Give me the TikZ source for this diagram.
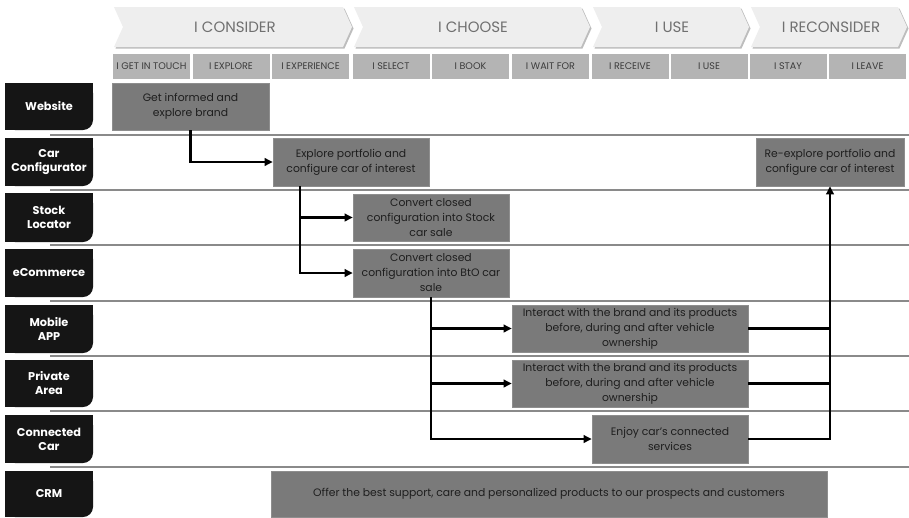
\documentclass[tikz,border=0pt]{standalone}
\usepackage{fontspec}
\setmainfont{Poppins}
\usetikzlibrary{arrows.meta,positioning}
\definecolor{chevfill}{HTML}{EEEEEE}
\definecolor{chevshade}{HTML}{BDBDBD}
\definecolor{chevtext}{HTML}{707070}
\definecolor{subfill}{HTML}{B4B4B4}
\definecolor{subtext}{HTML}{3C3C3C}
\definecolor{boxfill}{HTML}{7A7A7A}
\definecolor{boxedge}{HTML}{8E8E8E}
\definecolor{boxtext}{HTML}{1E1E1E}
\definecolor{chanfill}{HTML}{151515}
\definecolor{sepline}{HTML}{8A8A8A}
\newcommand\ChanBox[4]{%
  \fill[chanfill,rounded corners=10pt] (5,#2) rectangle (93,#3);
  \fill[chanfill] (5,#2) rectangle (93,{#3-10});
  \fill[chanfill] (5,#2) rectangle (83,#3);
  \node[chantext] (#1) at (49,{(#2+#3)/2}) {#4};}
\newcommand\Chevron[2]{%
  \fill[chevshade] ({#1+1.5},8.5) -- ({#2-9+1.5},8.5) -- ({#2+1.5},28.5) -- ({#2-9+1.5},48.5) -- ({#1+1.5},48.5) -- ({#1+9+1.5},28.5) -- cycle;
  \fill[chevfill] (#1,7) -- ({#2-9},7) -- (#2,27) -- ({#2-9},47) -- (#1,47) -- ({#1+9},27) -- cycle;}
\tikzset{
  chevtext/.style={text=chevtext,font=\fontsize{15}{16}\selectfont},
  subbox/.style={fill=subfill,text=subtext,font=\fontsize{9.6}{10}\selectfont,minimum width=77pt,minimum height=25pt,inner sep=0pt},
  chantext/.style={text=white,font=\bfseries\fontsize{11.3}{14}\selectfont,align=center,inner sep=0pt},
  cbox/.style={fill=boxfill,draw=boxedge,line width=0.6pt,text=boxtext,font=\fontsize{10.8}{15}\selectfont,align=center,inner sep=0pt},
  sep/.style={draw=sepline,line width=1.3pt},
  conn/.style={draw=black,line width=2.2pt},
  arr/.style={conn,-{Triangle[length=8pt,width=7.5pt]}}
}
\begin{document}
\begin{tikzpicture}[x=1pt,y=-1pt]
\useasboundingbox (0,0) rectangle (909,517);
\fill[white] (0,0) rectangle (909,517);
% phase chevrons
\Chevron{114}{352}
\Chevron{354}{590}
\Chevron{593}{749}
\Chevron{751}{907}
\node[chevtext] (p1) at (235,27) {I CONSIDER};
\node[chevtext] (p2) at (473,27) {I CHOOSE};
\node[chevtext] (p3) at (672,27) {I USE};
\node[chevtext] (p4) at (831,27) {I RECONSIDER};
% steps
\foreach \cx/\t [count=\i] in {151.5/I GET IN TOUCH,231/I EXPLORE,310.5/I EXPERIENCE,391/I SELECT,470.5/I BOOK,550.5/I WAIT FOR,630/I RECEIVE,709/I USE,788/I STAY,867.5/I LEAVE}
  \node[subbox] (s\i) at (\cx,66.5) {\t};
% separators
\foreach \yy in {135,190,245,301,356,411,467}
  \draw[sep] (50,\yy) -- (909,\yy);
% channels
\ChanBox{web}{83}{130}{Website}
\ChanBox{cfg}{138}{186}{Car\\Configurator}
\ChanBox{stk}{193}{242}{Stock\\Locator}
\ChanBox{eco}{249}{297}{eCommerce}
\ChanBox{mob}{305}{353}{Mobile\\APP}
\ChanBox{pri}{360}{407}{Private\\Area}
\ChanBox{cc}{415}{463}{Connected\\Car}
\ChanBox{crmlab}{471}{517}{CRM}
% content boxes
\node[cbox,minimum width=157pt,minimum height=47pt] (info) at (190.5,106.5) {Get informed and\\explore brand};
\node[cbox,minimum width=156pt,minimum height=48pt] (explore) at (351,162) {Explore portfolio and\\configure car of interest};
\node[cbox,minimum width=156pt,minimum height=47pt] (stock) at (431,217.5) {Convert closed\\configuration into Stock\\car sale};
\node[cbox,minimum width=156pt,minimum height=48pt] (bto) at (431,273) {Convert closed\\configuration into BtO car\\sale};
\node[cbox,minimum width=236pt,minimum height=47pt] (app) at (630,328.5) {Interact with the brand and its products\\before, during and after vehicle\\ownership};
\node[cbox,minimum width=236pt,minimum height=47pt] (priv) at (630,383.5) {Interact with the brand and its products\\before, during and after vehicle\\ownership};
\node[cbox,minimum width=156pt,minimum height=48pt] (conncar) at (670,439) {Enjoy car's connected\\services};
\node[cbox,minimum width=148pt,minimum height=48pt] (reexp) at (830,162) {Re-explore portfolio and\\configure car of interest};
\node[cbox,minimum width=556pt,minimum height=46pt] (crm) at (549,494) {Offer the best support, care and personalized products to our prospects and customers};
% connectors
\draw[arr] (info.south) |- (explore.west);
\draw[arr] ([xshift=27pt]explore.south west) |- (stock.west);
\draw[arr] ([xshift=27pt]explore.south west) |- (bto.west);
\draw[arr] (bto.south) |- (app.west);
\draw[arr] (bto.south) |- (priv.west);
\draw[arr] (bto.south) |- (conncar.west);
\draw[conn] (app.east) -- (app.east -| reexp.south);
\draw[conn] (priv.east) -- (priv.east -| reexp.south);
\draw[arr] (conncar.east) -| (reexp.south);
\end{tikzpicture}
\end{document}
